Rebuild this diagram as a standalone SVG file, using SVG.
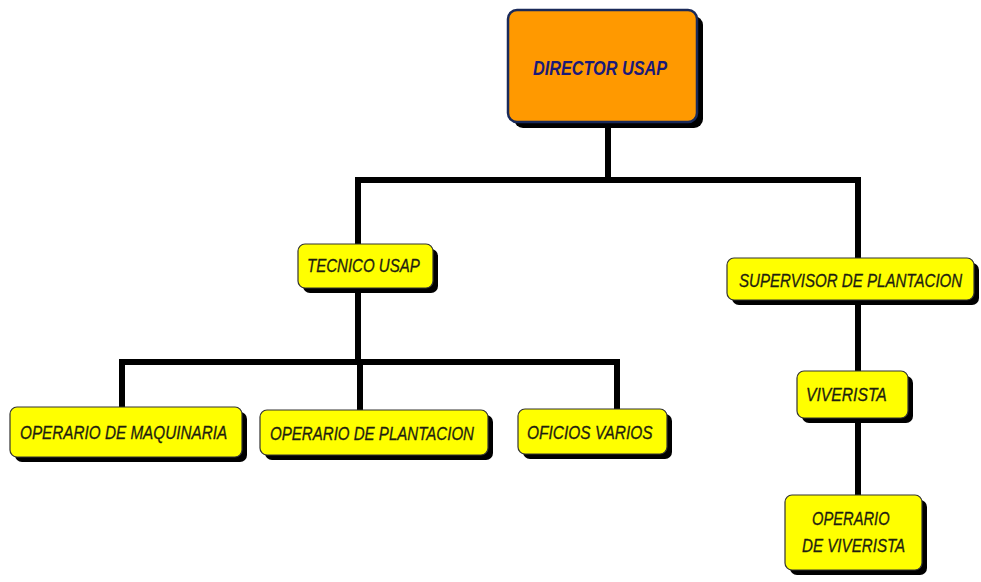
<svg xmlns="http://www.w3.org/2000/svg" width="981" height="582" viewBox="0 0 981 582">
  <defs>
    <style>
      .shadow { fill: #000; }
      .box { fill: #ffff00; stroke: #333; stroke-width: 1.2; }
      .top { fill: #ff9900; stroke: #1a2a5a; stroke-width: 2.5; }
      .lbl { font-family: "Liberation Sans", Arial, sans-serif; font-style: italic; font-size: 19px; fill: #1e1e10; stroke: #1e1e10; stroke-width: 0.3; }
      .ttl { font-family: "Liberation Sans", Arial, sans-serif; font-style: italic; font-weight: bold; font-size: 20px; fill: #1a1a78; }
      .wire { fill: none; stroke: #000; stroke-width: 6; stroke-linecap: butt; stroke-linejoin: miter; }
    </style>
  </defs>
  <rect width="981" height="582" fill="#fff"/>

  <!-- connectors -->
  <g id="connectors">
    <path class="wire" d="M608 122 V180 M358 180 H858 M358 177 V246 M858 177 V260"/>
    <path class="wire" d="M358 288 V362 M120 362 H620 M122 359 V409 M360 359 V412 M617 359 V411"/>
    <path class="wire" d="M858 300 V373 M858 418 V497"/>
  </g>

  <!-- top node -->
  <g id="director">
    <rect class="shadow" x="514" y="16" width="189" height="112" rx="9"/>
    <rect class="top" x="508" y="10" width="189" height="112" rx="9"/>
    <text class="ttl" x="533" y="75" textLength="134" lengthAdjust="spacingAndGlyphs">DIRECTOR USAP</text>
  </g>

  <!-- labels are drawn narrowed to 80% width -->
  <g id="tecnico">
    <rect class="shadow" x="303" y="249" width="135" height="44" rx="7"/>
    <rect class="box" x="298" y="244" width="135" height="44" rx="7"/>
    <text class="lbl" transform="translate(307 272) scale(0.8 1)" textLength="141" lengthAdjust="spacingAndGlyphs">TECNICO USAP</text>
  </g>

  <g id="supervisor">
    <rect class="shadow" x="732" y="263" width="247" height="42" rx="7"/>
    <rect class="box" x="727" y="258" width="247" height="42" rx="7"/>
    <text class="lbl" transform="translate(739 287) scale(0.8 1)" textLength="279" lengthAdjust="spacingAndGlyphs">SUPERVISOR DE PLANTACION</text>
  </g>

  <g id="op-maquinaria">
    <rect class="shadow" x="15" y="412" width="232" height="50" rx="7"/>
    <rect class="box" x="10" y="407" width="232" height="50" rx="7"/>
    <text class="lbl" transform="translate(20 439) scale(0.8 1)" textLength="259" lengthAdjust="spacingAndGlyphs">OPERARIO DE MAQUINARIA</text>
  </g>

  <g id="op-plantacion">
    <rect class="shadow" x="265" y="415" width="228" height="45" rx="7"/>
    <rect class="box" x="260" y="410" width="228" height="45" rx="7"/>
    <text class="lbl" transform="translate(270 440) scale(0.8 1)" textLength="255" lengthAdjust="spacingAndGlyphs">OPERARIO DE PLANTACION</text>
  </g>

  <g id="oficios">
    <rect class="shadow" x="523" y="414" width="149" height="45" rx="7"/>
    <rect class="box" x="518" y="409" width="149" height="45" rx="7"/>
    <text class="lbl" transform="translate(527 439) scale(0.8 1)" textLength="157" lengthAdjust="spacingAndGlyphs">OFICIOS VARIOS</text>
  </g>

  <g id="viverista">
    <rect class="shadow" x="802" y="376" width="111" height="47" rx="7"/>
    <rect class="box" x="797" y="371" width="111" height="47" rx="7"/>
    <text class="lbl" transform="translate(806 401) scale(0.8 1)" textLength="101" lengthAdjust="spacingAndGlyphs">VIVERISTA</text>
  </g>

  <g id="op-viverista">
    <rect class="shadow" x="790" y="500" width="137" height="75" rx="7"/>
    <rect class="box" x="785" y="495" width="137" height="75" rx="7"/>
    <text class="lbl" transform="translate(812 525) scale(0.8 1)" textLength="97" lengthAdjust="spacingAndGlyphs">OPERARIO</text>
    <text class="lbl" transform="translate(802 552) scale(0.8 1)" textLength="129" lengthAdjust="spacingAndGlyphs">DE VIVERISTA</text>
  </g>
</svg>
